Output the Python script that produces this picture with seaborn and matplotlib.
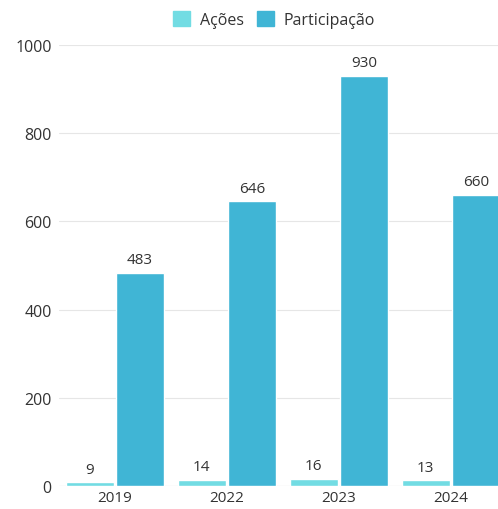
import matplotlib.pyplot as plt
import pandas as pd
import seaborn as sns

years = ["2019", "2022", "2023", "2024"]
acoes = [9, 14, 16, 13]
participacao = [483, 646, 930, 660]
series_names = ["Ações", "Participação"]
colors = ["#72DCE3", "#40B5D5"]

df = pd.DataFrame({
    "ano": years * 2,
    "serie": [series_names[0]] * len(years) + [series_names[1]] * len(years),
    "valor": acoes + participacao,
})

sns.set_style("white")
plt.rcParams["font.family"] = ["Open Sans", "DejaVu Sans"]
text_color = "#333333"

fig = plt.figure(figsize=(4.98, 5.10), dpi=100)
ax = fig.add_axes([0.118, 0.045, 0.90, 0.865])

sns.barplot(data=df, x="ano", y="valor", hue="serie", palette=colors,
            saturation=1, width=0.9, gap=0.05, ax=ax, legend=False)

for container in ax.containers:
    ax.bar_label(container, padding=4, fontsize=11, color=text_color)

ax.set_ylim(0, 1000)
ax.set_yticks(range(0, 1001, 200))
ax.yaxis.grid(True, color="#e6e6e6", linewidth=0.8)
ax.set_axisbelow(True)
for s in ax.spines.values():
    s.set_visible(False)
ax.axhline(0, color="#dddddd", linewidth=0.8, zorder=0)
ax.tick_params(axis="both", length=0, labelsize=11, labelcolor=text_color)
ax.tick_params(axis="y", pad=5, labelsize=11.5)
ax.tick_params(axis="x", pad=3)
ax.set_xlabel("")
ax.set_ylabel("")

handles = [plt.Rectangle((0, 0), 1, 1, color=c) for c in colors]
fig.legend(handles, series_names, loc="center", bbox_to_anchor=(0.55, 0.96),
           ncol=2, frameon=False, fontsize=11.5, handlelength=1.1, handleheight=1.1,
           columnspacing=0.8, handletextpad=0.6, labelcolor=text_color)

fig.savefig("out.png", dpi=100)
